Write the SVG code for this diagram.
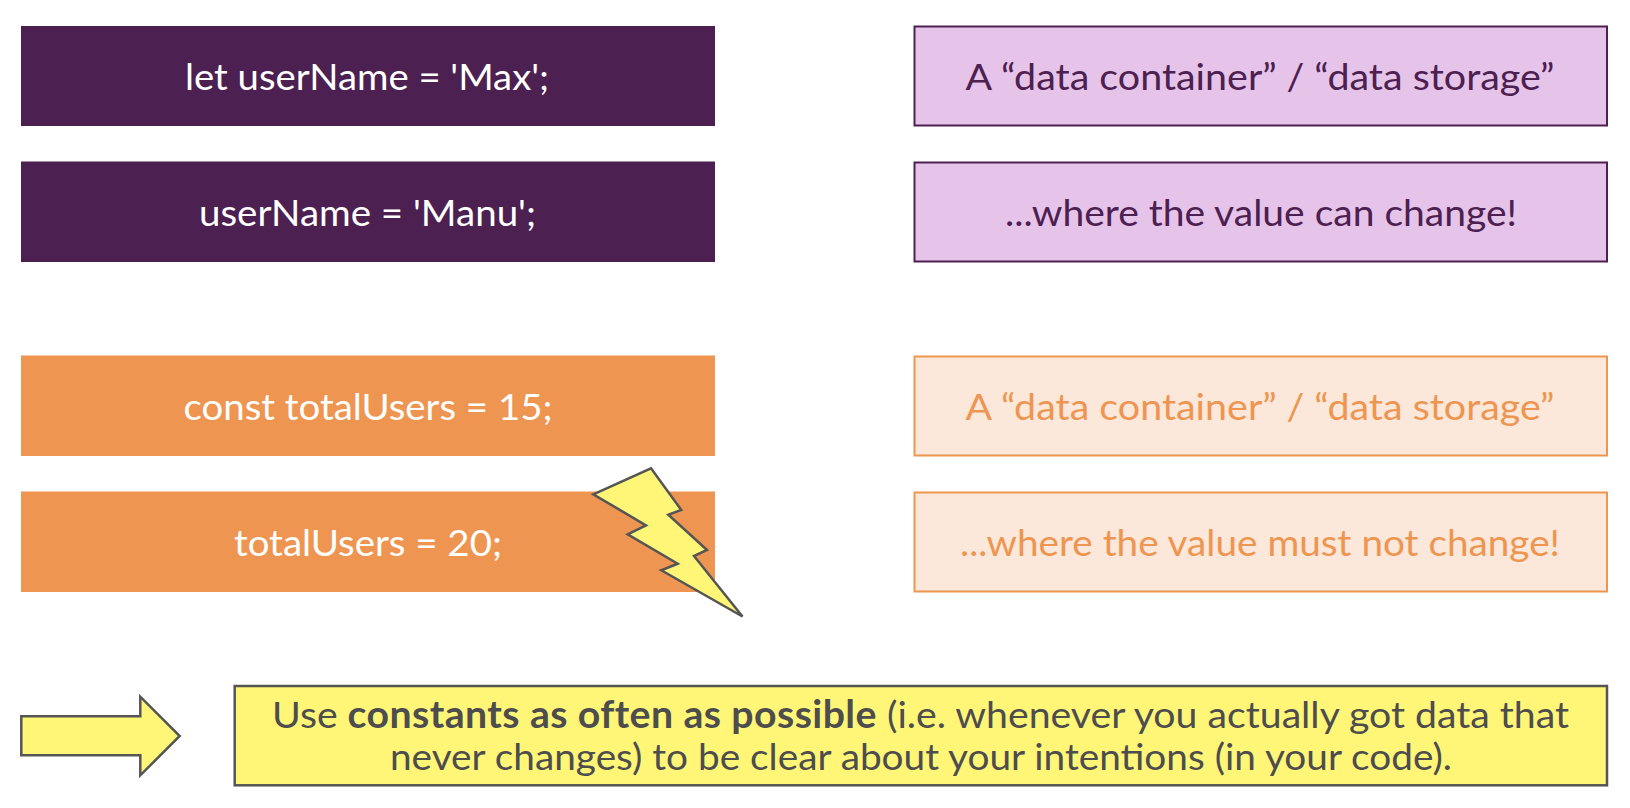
<svg xmlns="http://www.w3.org/2000/svg" width="1630" height="808" viewBox="0 0 1630 808">
<style>
text{font-family:"Lato","Noto Sans",sans-serif;font-size:37.5px;text-anchor:middle}
.purple{fill:#4c2050}
.orange{fill:#ee9651}
.w{fill:#fff}
.lp{fill:#e6c4e9;stroke:#4c2050;stroke-width:2}
.lo{fill:#fce8da;stroke:#ee9651;stroke-width:2}
.tp{fill:#4c2050}
.to{fill:#ee9651}
.y{fill:#fff677;stroke:#555;stroke-width:2.500}
.ty{fill:#4d4d4d}
</style>
<rect width="1630" height="808" fill="#fff"/>
<g id="code1"><rect class="purple" x="21" y="26" width="694" height="100"/><text class="w" x="367" y="90" textLength="364" lengthAdjust="spacingAndGlyphs">let userName = 'Max';</text></g>
<g id="code2"><rect class="purple" x="21" y="161.500" width="694" height="100.500"/><text class="w" x="367.500" y="226" textLength="337" lengthAdjust="spacingAndGlyphs">userName = 'Manu';</text></g>
<g id="code3"><rect class="orange" x="21" y="355.500" width="694" height="100.500"/><text class="w" x="368" y="420" textLength="369" lengthAdjust="spacingAndGlyphs">const totalUsers = 15;</text></g>
<g id="code4"><rect class="orange" x="21" y="491.500" width="694" height="100.500"/><text class="w" x="368" y="556" textLength="268" lengthAdjust="spacingAndGlyphs">totalUsers = 20;</text></g>
<g id="desc1"><rect class="lp" x="914.500" y="26.500" width="692.500" height="99"/><text class="tp" x="1260" y="90" textLength="589" lengthAdjust="spacingAndGlyphs">A “data container” / “data storage”</text></g>
<g id="desc2"><rect class="lp" x="914.500" y="162.500" width="692.500" height="99"/><text class="tp" x="1261" y="226" textLength="512" lengthAdjust="spacingAndGlyphs">...where the value can change!</text></g>
<g id="desc3"><rect class="lo" x="914.500" y="356.500" width="692.500" height="99"/><text class="to" x="1260" y="420" textLength="589" lengthAdjust="spacingAndGlyphs">A “data container” / “data storage”</text></g>
<g id="desc4"><rect class="lo" x="914.500" y="492.500" width="692.500" height="99"/><text class="to" x="1260" y="556" textLength="600" lengthAdjust="spacingAndGlyphs">...where the value must not change!</text></g>
<g id="bolt"><polygon class="y" points="651,468.300 681.300,510 668.300,514.700 707,550 694,556 742.500,616.500 661.300,570.300 677.700,563.700 627.700,534.300 646,525.300 593.300,494.300"/></g>
<g id="arrow"><polygon class="y" points="21.300,716.300 140.300,716.300 140.300,696.700 179.700,736 140.300,775.300 140.300,755.300 21.300,755.300"/></g>
<g id="note"><rect class="y" x="234.700" y="686" width="1372.300" height="99.300"/>
<text class="ty" x="920.500" y="727.500" textLength="1297" lengthAdjust="spacingAndGlyphs">Use <tspan font-weight="700" letter-spacing=".4">constants as often as possible</tspan> (i.e. whenever you actually got data that</text>
<text class="ty" x="921" y="769.500" textLength="1062" lengthAdjust="spacingAndGlyphs">never changes) to be clear about your intentions (in your code).</text></g>
<g id="connectors"></g>
</svg>
